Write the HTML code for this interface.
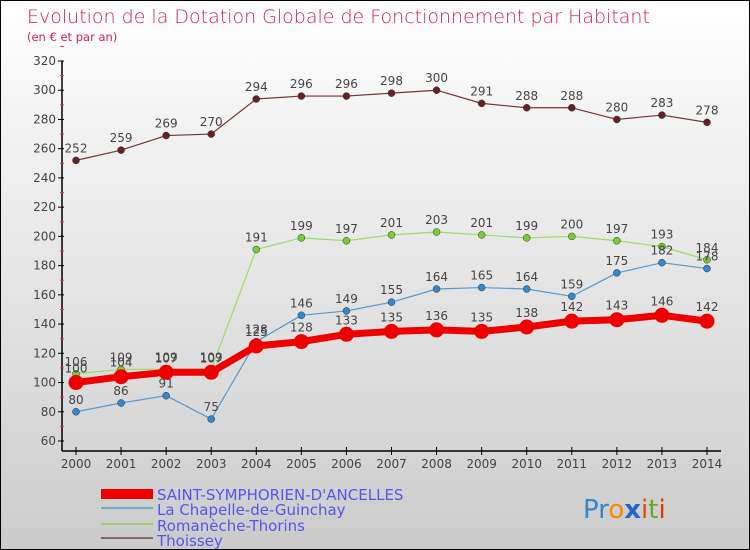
<!DOCTYPE html>
<html><head><meta charset="utf-8"><style>
body{margin:0}
#c{width:750px;height:550px;position:relative;overflow:hidden;box-sizing:border-box;border:1px solid #000;background:linear-gradient(#fff 0%,#f4f4f4 20%,#d9d9d9 75%,#cbcbcb 100%);font-family:"DejaVu Sans","Liberation Sans",sans-serif}
</style></head><body>
<div id="c">
<svg id="s" width="750" height="550" style="position:absolute;left:0;top:0">
<text x="26" y="22" font-size="19" fill="#cc2255" font-family="DejaVu Sans, sans-serif" style="font-weight:200">Evolution de la Dotation Globale de Fonctionnement par Habitant</text>
<text x="26" y="40" font-size="11.5" fill="#cc2255">(en € et par an)</text>
<g id="axes"></g><g id="series"></g>
<g font-size="15" fill="#5555ee">
<rect x="100" y="488" width="52" height="10" fill="#ee0000"/>
<text x="156" y="499">SAINT-SYMPHORIEN-D'ANCELLES</text>
<rect x="100" y="506" width="52" height="2" fill="#6fa9cc"/>
<text x="156" y="514">La Chapelle-de-Guinchay</text>
<rect x="100" y="522" width="52" height="2" fill="#99cc77"/>
<text x="156" y="530">Romanèche-Thorins</text>
<rect x="100" y="536" width="52" height="2" fill="#886666"/>
<text x="156" y="545">Thoissey</text>
</g>
<text x="582" y="517" font-size="26"><tspan fill="#3388cc">Pr</tspan><tspan fill="#ff8800">o</tspan><tspan fill="#2266cc" font-weight="bold">x</tspan><tspan fill="#ee4400">i</tspan><tspan fill="#66aa22">t</tspan><tspan fill="#ee3300">i</tspan></text>
</svg></div>
<script>
const years=[2000,2001,2002,2003,2004,2005,2006,2007,2008,2009,2010,2011,2012,2013,2014];
const yTicks=[60,80,100,120,140,160,180,200,220,240,260,280,300,320];
const thoissey=[252,259,269,270,294,296,296,298,300,291,288,288,280,283,278];
const romaneche=[106,109,109,109,191,199,197,201,203,201,199,200,197,193,184];
const chapelle=[80,86,91,75,128,146,149,155,164,165,164,159,175,182,178];
const saint=[100,104,107,107,125,128,133,135,136,135,138,142,143,146,142];
const NS="http://www.w3.org/2000/svg";
const X=i=>75+i*(706-75)/14;
const Y=v=>440-(v-60)*(380/260);
function mk(t,a,p){const e=document.createElementNS(NS,t);for(const k in a)e.setAttribute(k,a[k]);p.appendChild(e);return e;}
const ax=document.getElementById('axes');
let l=mk('line',{x1:61,y1:60,x2:61,y2:450,stroke:'#000','stroke-width':1.5},ax);


l=mk('line',{x1:61,y1:450,x2:720,y2:450,stroke:'#000','stroke-width':1.5},ax);


yTicks.forEach(v=>{
 mk('line',{x1:57,x2:63,y1:Y(v),y2:Y(v),stroke:'#000'},ax);
 mk('line',{x1:59,x2:63,y1:Y(v+10),y2:Y(v+10),stroke:'#e33'},ax);
 const t=mk('text',{x:55,y:Y(v)+4,'font-size':12,fill:'#444','text-anchor':'end'},ax);t.textContent=v;
 
 
});
years.forEach((y,i)=>{
 mk('line',{x1:X(i),x2:X(i),y1:446,y2:454,stroke:'#000'},ax);
 const t=mk('text',{x:X(i),y:467,'font-size':12,fill:'#444','text-anchor':'middle'},ax);t.textContent=y;
 
 
});
const sg=document.getElementById('series');
function draw(vals,color,w,r,dot,name,labOff){
 const g=mk('g',{},sg);
 
 
 mk('polyline',{points:vals.map((v,i)=>X(i)+','+Y(v)).join(' '),fill:'none',stroke:color,'stroke-width':w,'stroke-linejoin':'round'},g);
 vals.forEach((v,i)=>{
  const c=mk('circle',{cx:X(i),cy:Y(v),r:r,fill:dot,stroke:r>5?'none':'#333','stroke-width':0.5},g);
  
  
  const t=mk('text',{x:X(i),y:Y(v)-labOff,'font-size':12,fill:'#444','text-anchor':'middle'},g);t.textContent=v;
 });
}
draw(thoissey,'#773333',1.2,3.5,'#662222','thoissey-series',8);
draw(romaneche,'#99dd66',1.2,3.5,'#77cc33','romaneche-series',8);
draw(chapelle,'#5599cc',1.2,3.5,'#3388cc','chapelle-series',8);
draw(saint,'#ee0000',7,7.5,'#ee0000','saint-symphorien-series',10);
</script>
</body></html>
